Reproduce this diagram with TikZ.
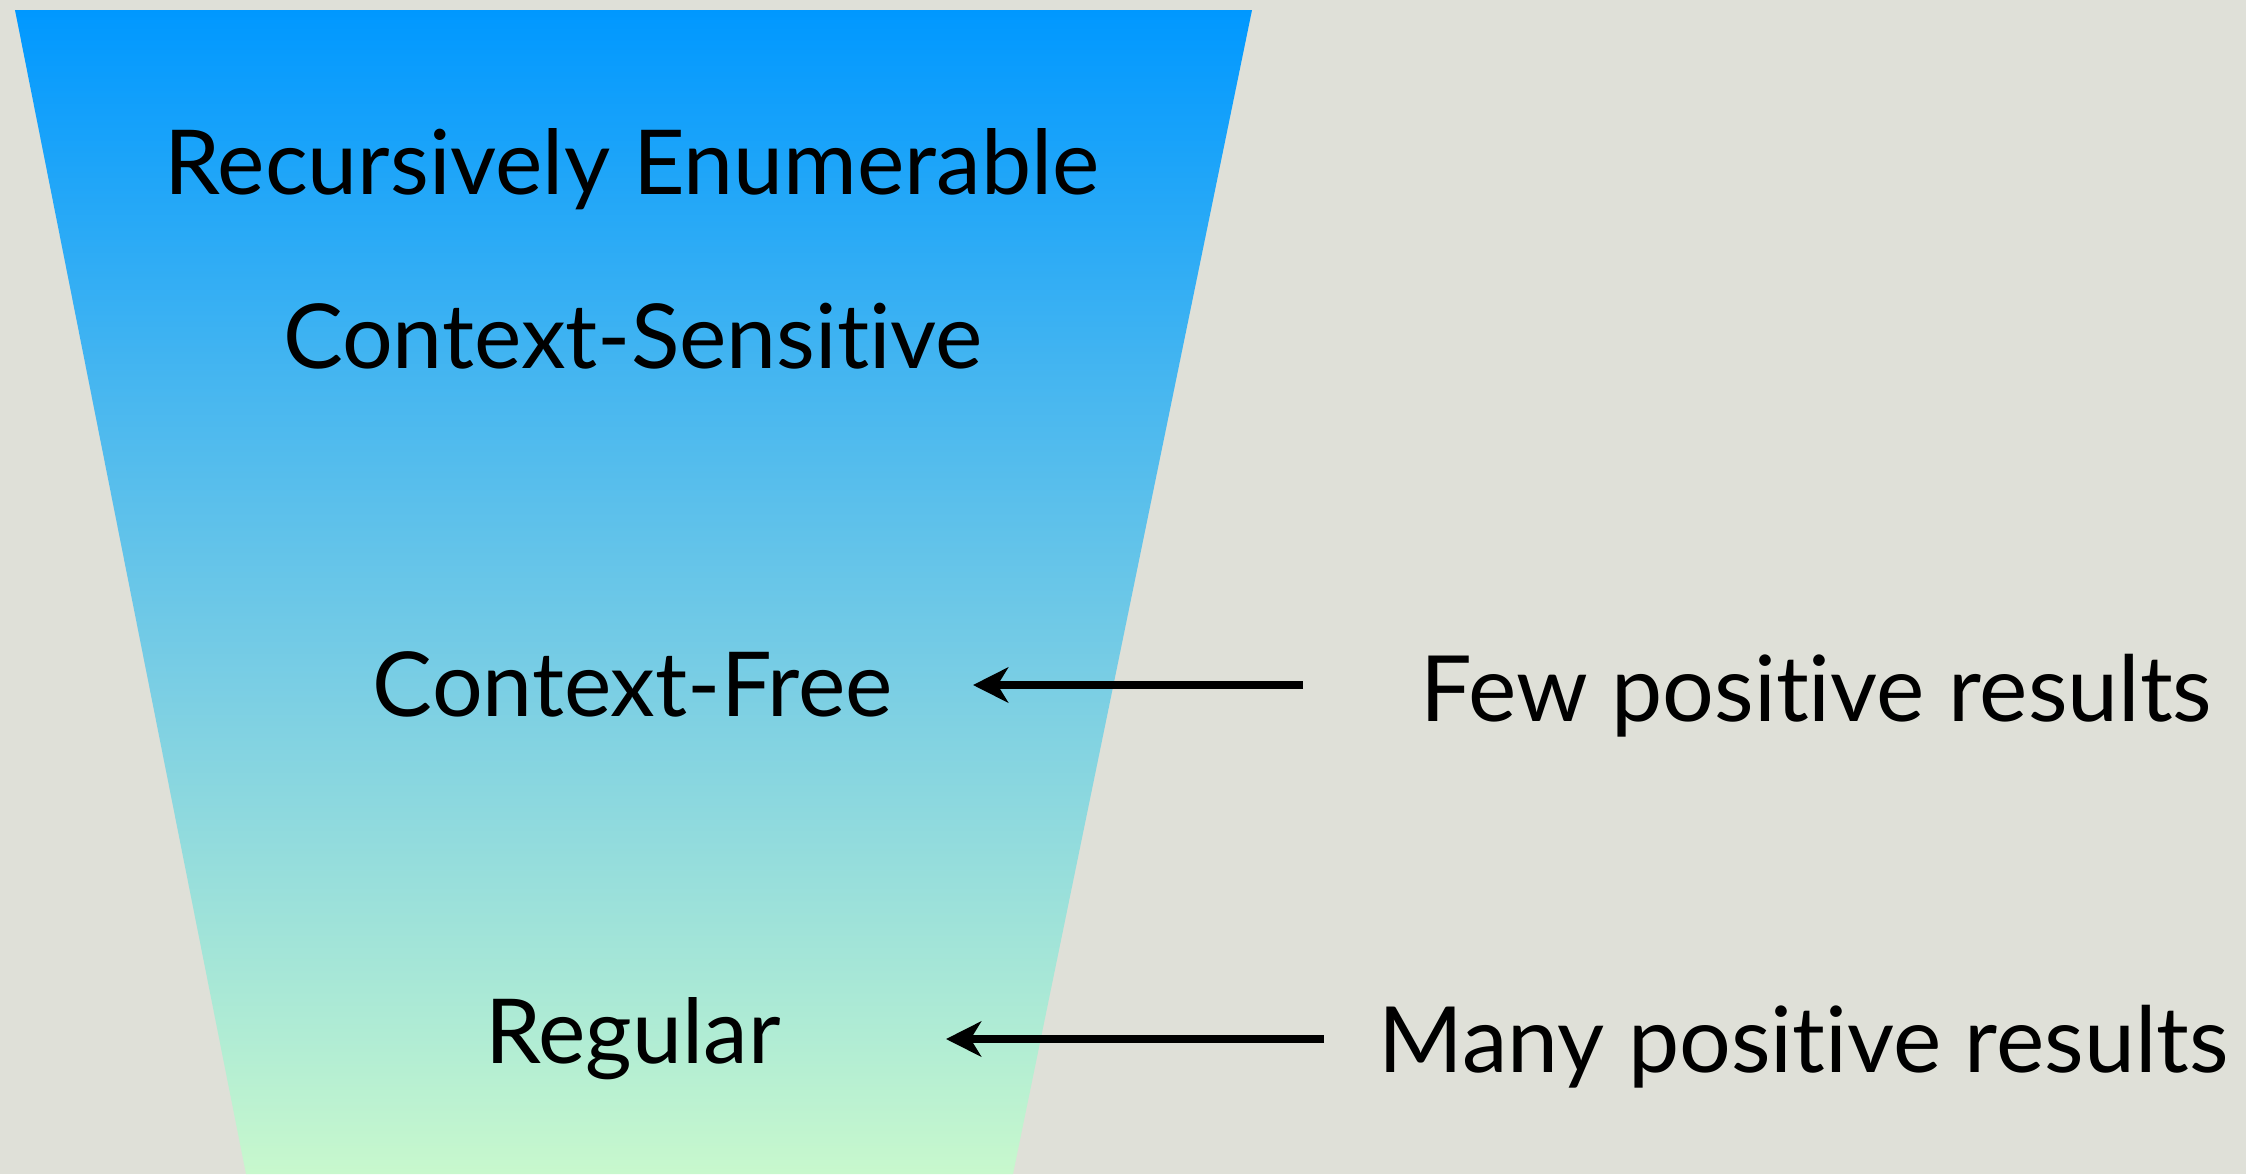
\documentclass[tikz,border=0pt]{standalone}
\usepackage{fontspec}
\setmainfont{Lato}[Ligatures={NoCommon}]
\usetikzlibrary{arrows.meta}
\definecolor{bg}{RGB}{223,224,216}
\definecolor{ftop}{RGB}{0,152,255}
\definecolor{fa}{RGB}{70,182,240}
\definecolor{fb}{RGB}{122,206,228}
\definecolor{fc}{RGB}{176,236,212}
\definecolor{fbot}{RGB}{200,248,205}
\pgfdeclareverticalshading{funnel}{100bp}{color(0bp)=(fbot); color(25bp)=(fbot); color(31bp)=(fc); color(46bp)=(fb); color(59bp)=(fa); color(75bp)=(ftop); color(100bp)=(ftop)}
\tikzset{
  lab/.style={font=\fontsize{25.5}{30}\selectfont, inner sep=0pt, anchor=base},
  side/.style={font=\fontsize{26}{30}\selectfont, inner sep=0pt, anchor=base west},
  arr/.style={line width=2.3pt, -{Stealth[length=10pt,width=10pt,inset=3pt]}}
}
\begin{document}
\begin{tikzpicture}[x=1cm,y=1cm]
\fill[bg] (0,0) rectangle (22.46,-11.74);
\useasboundingbox (0,0) rectangle (22.46,-11.74);
\shade[shading=funnel] (0.15,-0.10) -- (12.52,-0.10) -- (10.13,-11.74) -- (2.46,-11.74) -- cycle;
\node[lab] (re) at (6.32,-1.94) {Recursively Enumerable};
\node[lab] (cs) at (6.33,-3.68) {Context-Sensitive};
\node[lab] (cf) at (6.33,-7.16) {Context-Free};
\node[lab] (rg) at (6.33,-10.63) {Regular};
\node[side] (few) at (14.20,-7.21) {Few positive results};
\node[side] (many) at (13.78,-10.72) {Many positive results};
\coordinate (a1s) at (13.03,-6.85);
\coordinate (a1e) at (9.73,-6.85);
\coordinate (a2s) at (13.24,-10.39);
\coordinate (a2e) at (9.46,-10.39);
\draw[arr] (a1s) -- (a1e);
\draw[arr] (a2s) -- (a2e);
\end{tikzpicture}
\end{document}
